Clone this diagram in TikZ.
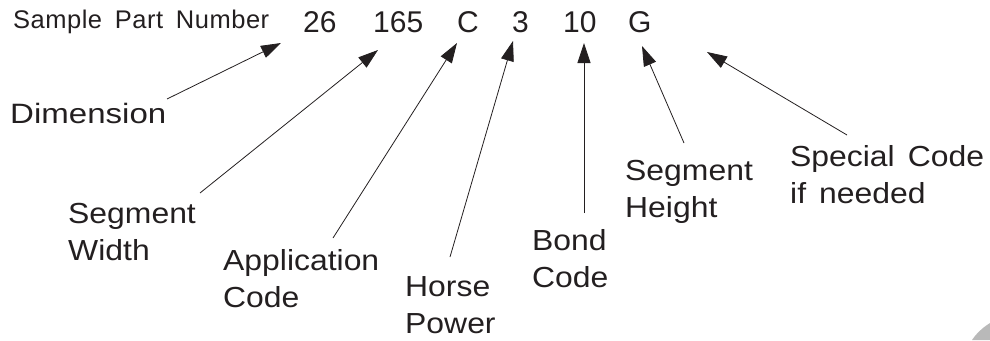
\documentclass[tikz,border=0pt]{standalone}
\usepackage{fontspec}
\setmainfont{Liberation Sans}
\newfontfamily\lblfont[FakeStretch=1.1]{Liberation Sans}
\newfontfamily\dimfont[FakeStretch=1.18]{Liberation Sans}
\usetikzlibrary{arrows.meta}
\definecolor{ink}{RGB}{35,31,32}
\tikzset{
  lbl/.style={inner sep=0pt, anchor=base west, text=ink, align=left,
    font=\lblfont\fontsize{29}{37}\selectfont},
  num/.style={inner sep=0pt, anchor=base west, text=ink,
    font=\fontsize{30}{37}\selectfont},
  head/.style={inner sep=0pt, anchor=base west, text=ink,
    font=\fontsize{25.5}{30}\selectfont\addfontfeature{LetterSpace=2}},
  conn/.style={draw=ink, line width=0.8pt,
    -{Triangle[length=20pt,width=13pt]}}
}
\begin{document}
\begin{tikzpicture}[x=1pt,y=-1pt]
\useasboundingbox (0,0) rectangle (990,340);
\node[head] (title) at (13,28) {Sample\hspace{0.5em}Part\hspace{0.5em}Number};
\node[num] (n26) at (303,32) {26};
\node[num] (n165) at (373,32) {165};
\node[num] (nC) at (457,32) {C};
\node[num] (n3) at (512,32) {3};
\node[num] (n10) at (563,32) {10};
\node[num] (nG) at (628,32) {G};

% multi-line labels: base anchor is the baseline of the last line
\node[lbl, font=\dimfont\fontsize{28}{37}\selectfont] (dim) at (10,123) {Dimension};
\node[lbl] (sw) at (68,260) {Segment\\Width};
\node[lbl] (ac) at (223,307) {Application\\Code};
\node[lbl] (hp) at (405,333) {Horse\\Power};
\node[lbl] (bc) at (532,287) {Bond\\Code};
\node[lbl] (sh) at (625,217) {Segment\\Height};
\node[lbl] (sc) at (790,203) {Special\hspace{0.45em}Code\\if\hspace{0.45em}needed};

\coordinate (t1) at (167,99);  \coordinate (h1) at (281,43);
\coordinate (t2) at (200,193); \coordinate (h2) at (378,50);
\coordinate (t3) at (333,238); \coordinate (h3) at (457,43);
\coordinate (t4) at (450,257); \coordinate (h4) at (513,41);
\coordinate (t5) at (584,213); \coordinate (h5) at (584,43);
\coordinate (t6) at (684,143); \coordinate (h6) at (642,46);
\coordinate (t7) at (847,135); \coordinate (h7) at (707,52);

\draw[conn] (t1) -- (h1);
\draw[conn] (t2) -- (h2);
\draw[conn] (t3) -- (h3);
\draw[conn] (t4) -- (h4);
\draw[conn] (t5) -- (h5);
\draw[conn] (t6) -- (h6);
\draw[conn] (t7) -- (h7);

\fill[gray!55] (990,323) .. controls (982,328) and (976,334) .. (972,340) -- (990,340) -- cycle;
\end{tikzpicture}
\end{document}
